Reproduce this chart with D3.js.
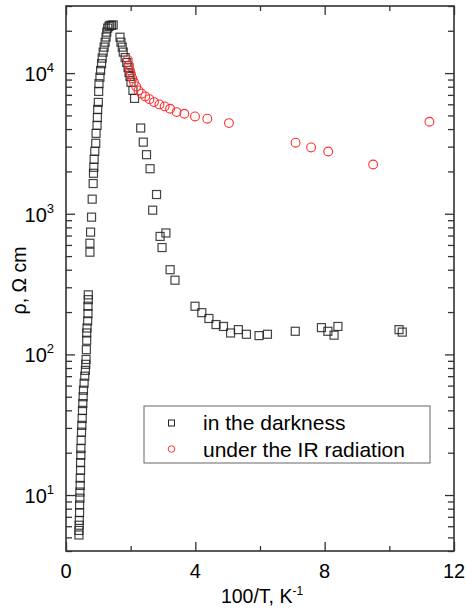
<!DOCTYPE html>
<html>
<head>
<meta charset="utf-8">
<script src="https://cdn.jsdelivr.net/npm/d3@7"></script>
<style>
  body { margin: 0; background: #fff; }
  svg { display: block; font-family: "Liberation Sans", Arial, sans-serif; }
</style>
</head>
<body>
<div id="chart"></div>
<script>
// in the darkness (squares)
var darkX = [0.40, 0.40, 0.41, 0.41, 0.42, 0.42, 0.43, 0.43, 0.44, 0.44, 0.45, 0.45, 0.46, 0.46, 0.47,
  0.48, 0.49, 0.50, 0.51, 0.52, 0.53, 0.54, 0.56, 0.58, 0.60, 0.61, 0.62, 0.63, 0.64, 0.64, 0.65,
  0.67, 0.68, 0.68, 0.69, 0.69, 0.74, 0.74, 0.76, 0.79, 0.81, 0.84, 0.85, 0.86, 0.87, 0.89, 0.92,
  0.93, 0.96, 0.97, 0.98, 1.00, 1.01, 1.02, 1.05, 1.07, 1.10, 1.12, 1.15, 1.18, 1.21, 1.24, 1.26,
  1.29, 1.33, 1.36, 1.41, 1.46,
  1.67, 1.70, 1.74, 1.77, 1.83, 1.88, 1.92, 1.95, 1.98, 2.01, 2.07, 2.12, 2.31, 2.39, 2.49, 2.60,
  2.80, 2.68, 3.09, 2.91, 2.97, 3.22, 3.37, 3.99, 4.20, 4.42, 4.64, 4.87, 5.09, 5.33, 5.58, 5.97,
  6.23, 7.09, 7.90, 8.10, 8.29, 8.41, 10.30, 10.40];
var darkRho = [5.2, 5.6, 6.1, 6.6, 7.5, 8.5, 9.5, 10.5, 11.7, 13.2, 15, 17, 19.2, 21.4, 24.5,
  28, 31.3, 35, 40, 44.7, 50, 55.6, 62.4, 70, 77, 85, 92, 108, 126, 142, 154,
  173, 195, 220, 245, 265, 533, 617, 740, 946, 1270, 1640, 1940, 2140, 2440, 2780, 3170,
  3730, 4250, 4830, 5520, 6190, 7410, 8410, 9370, 10450, 11660, 12780, 14100, 15300, 16600, 18040, 19560,
  20900, 21500, 21850, 21850, 22000,
  18000, 16600, 15300, 14100, 12900, 11900, 10970, 10100, 9480, 8600, 7530, 6610, 4070, 3230, 2630, 2090,
  1370, 1060, 730, 690, 575, 400, 337, 220, 198, 180, 163, 158, 142, 150, 139, 136,
  139, 146, 155, 146, 137, 158, 150, 144];

// under the IR radiation (circles)
var irX = [1.91, 1.95, 1.98, 2.01, 2.05, 2.10, 2.17, 2.24, 2.34, 2.45, 2.58, 2.72, 2.89, 3.05,
  3.22, 3.42, 3.66, 3.99, 4.37, 5.04, 7.10, 7.58, 8.11, 9.50, 11.24];
var irRho = [12450, 11350, 10450, 9800, 9210, 8630, 8040, 7530, 7140, 6830, 6530, 6220, 5990, 5800,
  5580, 5280, 5140, 4920, 4740, 4410, 3200, 2960, 2770, 2240, 4510];

var xMajor = [0, 4, 8, 12];
var xMinor = [2, 6, 10];
var yMajor = [1e1, 1e2, 1e3, 1e4];
var legendLabels = ["in the darkness", "under the IR radiation"];

var width = 466, height = 610;
var margin = {top: 6, right: 12, bottom: 59, left: 66};
var plotW = width - margin.left - margin.right,
    plotH = height - margin.top - margin.bottom;

var x = d3.scaleLinear().domain([0, 12]).range([0, plotW]);
var y = d3.scaleLog().domain([4, 30000]).range([plotH, 0]);

var yMinor = [];
[1, 10, 100, 1000, 10000].forEach(function(p) {
  for (var k = 2; k <= 9; k++) {
    var v = k * p;
    if (v >= 4 && v <= 30000) yMinor.push(v);
  }
});

var svg = d3.select("#chart").append("svg")
    .attr("width", width)
    .attr("height", height);

var g = svg.append("g")
    .attr("transform", "translate(" + margin.left + "," + margin.top + ")");

var axisColor = "#333";

function tickAxis(axis, tr) {
  var a = g.append("g").attr("transform", tr).call(axis);
  a.select(".domain").remove();
  a.selectAll("line").attr("stroke", axisColor).attr("stroke-width", 1.3);
  a.selectAll("text").remove();
}

// inward ticks on all four sides
tickAxis(d3.axisBottom(x).tickValues(xMajor).tickSize(-9), "translate(0," + plotH + ")");
tickAxis(d3.axisBottom(x).tickValues(xMinor).tickSize(-5), "translate(0," + plotH + ")");
tickAxis(d3.axisTop(x).tickValues(xMajor).tickSize(-9), "translate(0,0)");
tickAxis(d3.axisTop(x).tickValues(xMinor).tickSize(-5), "translate(0,0)");
tickAxis(d3.axisLeft(y).tickValues(yMajor).tickSize(-9), "translate(0,0)");
tickAxis(d3.axisLeft(y).tickValues(yMinor).tickSize(-6), "translate(0,0)");
tickAxis(d3.axisRight(y).tickValues(yMajor).tickSize(-9), "translate(" + plotW + ",0)");
tickAxis(d3.axisRight(y).tickValues(yMinor).tickSize(-6), "translate(" + plotW + ",0)");

g.append("rect")
    .attr("width", plotW)
    .attr("height", plotH)
    .attr("fill", "none")
    .attr("stroke", axisColor)
    .attr("stroke-width", 1.6);

// x tick labels
g.selectAll(".xlab")
  .data(xMajor)
  .enter().append("text")
    .attr("class", "xlab")
    .attr("x", function(d) { return x(d); })
    .attr("y", plotH + 27)
    .attr("text-anchor", "middle")
    .style("font-size", "20px")
    .text(function(d) { return d; });

// y tick labels 10^n
var ylab = g.selectAll(".ylab")
  .data(yMajor)
  .enter().append("text")
    .attr("class", "ylab")
    .attr("x", -12)
    .attr("y", function(d) { return y(d) + 8; })
    .attr("text-anchor", "end")
    .style("font-size", "20px");
ylab.append("tspan").text("10");
ylab.append("tspan")
    .attr("dy", -9)
    .style("font-size", "13px")
    .text(function(d) { return Math.round(Math.log10(d)); });

// axis titles
var xt = svg.append("text")
    .attr("x", margin.left + plotW / 2 + 2)
    .attr("y", 603)
    .attr("text-anchor", "middle")
    .style("font-size", "19.5px");
xt.append("tspan").text("100/T, K");
xt.append("tspan").attr("dy", -8).style("font-size", "12px").text("-1");

svg.append("text")
    .attr("transform", "translate(26," + (margin.top + plotH / 2 + 2) + ") rotate(-90)")
    .attr("text-anchor", "middle")
    .style("font-size", "19.5px")
    .text("ρ, Ω cm");

// data
var dark = darkX.map(function(d, i) { return {x: d, v: darkRho[i]}; });
var ir = irX.map(function(d, i) { return {x: d, v: irRho[i]}; });

var sq = 8;
g.selectAll(".dark")
  .data(dark)
  .enter().append("rect")
    .attr("class", "dark")
    .attr("x", function(d) { return x(d.x) - sq / 2; })
    .attr("y", function(d) { return y(d.v) - sq / 2; })
    .attr("width", sq)
    .attr("height", sq)
    .attr("fill", "none")
    .attr("stroke", "#222")
    .attr("stroke-opacity", 0.85)
    .attr("stroke-width", 1.2);

g.selectAll(".ir")
  .data(ir)
  .enter().append("circle")
    .attr("class", "ir")
    .attr("cx", function(d) { return x(d.x); })
    .attr("cy", function(d) { return y(d.v); })
    .attr("r", 4.4)
    .attr("fill", "none")
    .attr("stroke", "#ff3030")
    .attr("stroke-width", 1.1);

// legend
var lg = svg.append("g").attr("transform", "translate(144,406)");
lg.append("rect")
    .attr("width", 286)
    .attr("height", 57)
    .attr("fill", "#fff")
    .attr("stroke", "#666")
    .attr("stroke-width", 1);
lg.append("rect")
    .attr("x", 24.5).attr("y", 14)
    .attr("width", 6).attr("height", 6)
    .attr("fill", "none")
    .attr("stroke", "#222")
    .attr("stroke-width", 1);
lg.append("circle")
    .attr("cx", 27.5).attr("cy", 43)
    .attr("r", 3.3)
    .attr("fill", "none")
    .attr("stroke", "#ff3030")
    .attr("stroke-width", 1);
lg.selectAll(".lt")
  .data(legendLabels)
  .enter().append("text")
    .attr("class", "lt")
    .attr("x", 59)
    .attr("y", function(d, i) { return 24 + i * 27; })
    .style("font-size", "21px")
    .text(function(d) { return d; });
</script>
</body>
</html>
